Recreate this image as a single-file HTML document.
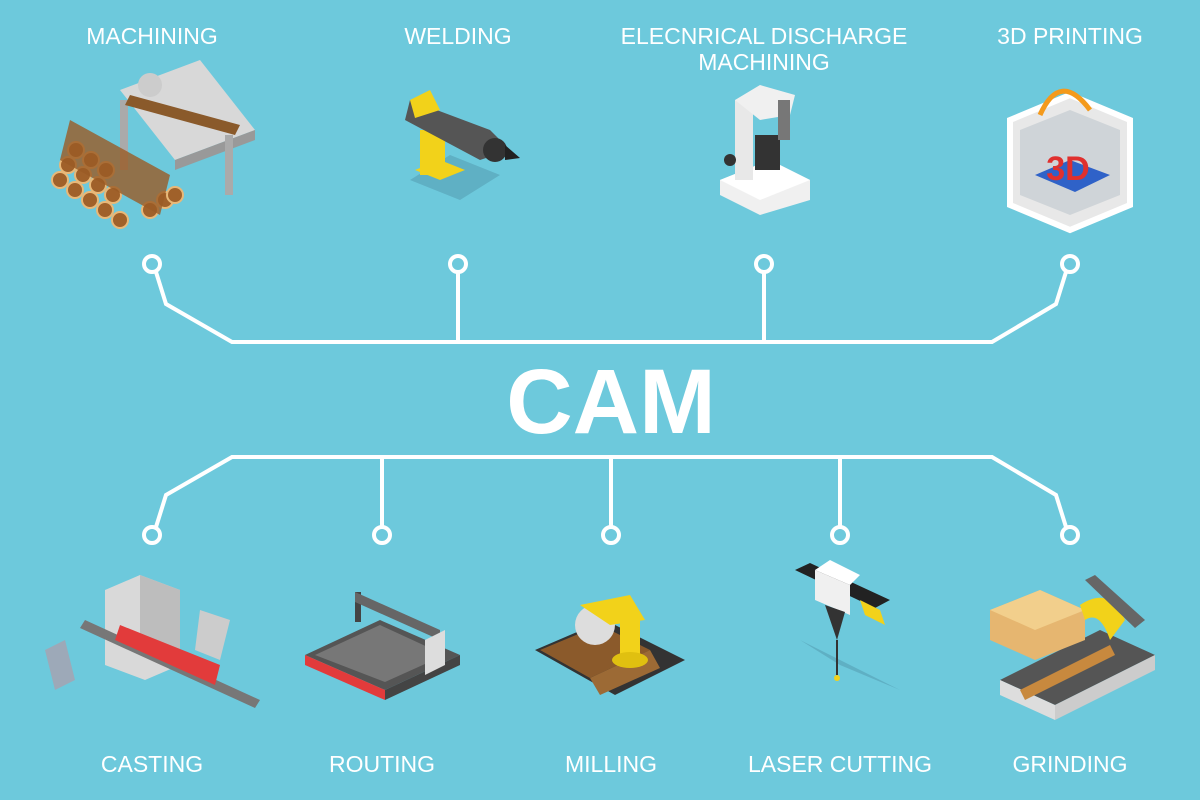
<!DOCTYPE html>
<html><head><meta charset="utf-8"><style>
html,body{margin:0;padding:0}
body{width:1200px;height:800px;background:#6dc9dc;overflow:hidden;position:relative;font-family:"Liberation Sans",sans-serif}
svg{position:absolute;left:0;top:0}
</style></head><body>
<svg width="1200" height="800" viewBox="0 0 1200 800">
<g fill="none" stroke="#fff" stroke-width="4" stroke-linejoin="miter">
<polyline points="156,272 166,304 232,342 992,342 1056,304 1066,272"/>
<line x1="458" y1="272" x2="458" y2="342"/>
<line x1="764" y1="272" x2="764" y2="342"/>
<polyline points="156,527 166,495 232,457 992,457 1056,495 1066,527"/>
<line x1="382" y1="457" x2="382" y2="527"/>
<line x1="611" y1="457" x2="611" y2="527"/>
<line x1="840" y1="457" x2="840" y2="527"/>
<g stroke-width="4">
<circle cx="152" cy="264" r="8"/><circle cx="458" cy="264" r="8"/><circle cx="764" cy="264" r="8"/><circle cx="1070" cy="264" r="8"/>
<circle cx="152" cy="535" r="8"/><circle cx="382" cy="535" r="8"/><circle cx="611" cy="535" r="8"/><circle cx="840" cy="535" r="8"/><circle cx="1070" cy="535" r="8"/>
</g></g>
<g fill="#fff" font-family="Liberation Sans, sans-serif" font-size="23" text-anchor="middle">
<text x="152" y="44">MACHINING</text>
<text x="458" y="44">WELDING</text>
<text x="764" y="44">ELECNRICAL DISCHARGE</text>
<text x="764" y="70">MACHINING</text>
<text x="1070" y="44">3D PRINTING</text>
<text x="152" y="772">CASTING</text>
<text x="382" y="772">ROUTING</text>
<text x="611" y="772">MILLING</text>
<text x="840" y="772">LASER CUTTING</text>
<text x="1070" y="772">GRINDING</text>
<text x="611" y="433" font-size="92" font-weight="bold">CAM</text>
</g>
<!-- machining -->
<g>
<polygon points="120,90 200,60 255,130 175,160" fill="#d8d8d8"/>
<polygon points="175,160 255,130 255,140 175,170" fill="#999"/>
<rect x="225" y="135" width="8" height="60" fill="#aaa"/>
<rect x="120" y="100" width="8" height="70" fill="#aaa"/>
<polygon points="130,95 240,125 235,135 125,105" fill="#8a5a2b"/>
<circle cx="150" cy="85" r="12" fill="#ccc"/>
<g fill="#a0612a" stroke="#e8b878" stroke-width="2">
<circle cx="60" cy="180" r="8"/><circle cx="75" cy="190" r="8"/><circle cx="90" cy="200" r="8"/><circle cx="105" cy="210" r="8"/><circle cx="120" cy="220" r="8"/>
<circle cx="68" cy="165" r="8"/><circle cx="83" cy="175" r="8"/><circle cx="98" cy="185" r="8"/><circle cx="113" cy="195" r="8"/>
<circle cx="76" cy="150" r="8"/><circle cx="91" cy="160" r="8"/><circle cx="106" cy="170" r="8"/>
<circle cx="150" cy="210" r="8"/><circle cx="165" cy="200" r="8"/><circle cx="175" cy="195" r="8"/>
</g>
<polygon points="70,120 170,175 160,215 60,160" fill="#9a5b25" opacity=".8"/>
</g>
<!-- welding -->
<g>
<polygon points="410,180 460,200 500,175 450,155" fill="#5fb0c4"/>
<polygon points="415,170 440,180 465,170 440,160" fill="#f2d21a"/>
<rect x="420" y="130" width="25" height="45" fill="#f2d21a"/>
<polygon points="410,100 490,130 510,150 480,160 405,120" fill="#555"/>
<polygon points="410,100 430,90 440,110 415,118" fill="#f2d21a"/>
<circle cx="495" cy="150" r="12" fill="#333"/>
<polygon points="505,145 520,158 505,160" fill="#222"/>
</g>
<!-- EDM -->
<g>
<polygon points="720,180 770,160 810,180 810,200 760,215 720,195" fill="#f0f0f0"/>
<polygon points="720,180 760,200 810,180 770,160" fill="#fff"/>
<rect x="735" y="100" width="18" height="80" fill="#e8e8e8"/>
<polygon points="735,100 760,85 795,95 790,115 760,120" fill="#f0f0f0"/>
<rect x="755" y="135" width="25" height="35" fill="#333"/>
<rect x="778" y="100" width="12" height="40" fill="#777"/>
<circle cx="730" cy="160" r="6" fill="#333"/>
</g>
<!-- 3D printing -->
<g>
<polygon points="1010,120 1070,95 1130,120 1130,205 1070,230 1010,205" fill="#e8e8e8" stroke="#fff" stroke-width="6"/>
<polygon points="1020,130 1070,110 1120,130 1120,195 1070,215 1020,195" fill="#cfd4d8"/>
<polygon points="1035,175 1070,160 1110,175 1075,192" fill="#2f62c8"/>
<text x="1068" y="180" fill="#e0302e" font-family="Liberation Sans, sans-serif" font-weight="bold" font-size="34" text-anchor="middle">3D</text>
<path d="M1040 115 Q1060 70 1090 110" stroke="#f49a1c" stroke-width="5" fill="none"/>
</g>
<!-- casting -->
<g>
<polygon points="105,590 140,575 180,590 180,665 145,680 105,665" fill="#d9d9d9"/>
<polygon points="140,575 180,590 180,665 140,650" fill="#bdbdbd"/>
<polygon points="85,620 260,700 255,708 80,628" fill="#777"/>
<polygon points="120,625 220,665 215,685 115,640" fill="#e23b3b"/>
<polygon points="200,610 230,620 220,660 195,650" fill="#ccc"/>
<polygon points="45,650 65,640 75,680 55,690" fill="#9da9b8"/>
</g>
<!-- routing -->
<g>
<polygon points="305,655 380,620 460,655 385,690" fill="#555"/>
<polygon points="305,655 385,690 385,700 305,665" fill="#e23b3b"/>
<polygon points="385,690 460,655 460,665 385,700" fill="#444"/>
<polygon points="315,655 380,625 445,655 385,682" fill="#777"/>
<rect x="355" y="592" width="6" height="30" fill="#444"/>
<polygon points="355,592 440,630 440,640 355,602" fill="#666"/>
<polygon points="425,640 445,630 445,665 425,675" fill="#ddd"/>
</g>
<!-- milling -->
<g>
<polygon points="535,650 605,620 685,660 615,695" fill="#333"/>
<polygon points="540,650 600,625 650,650 590,678" fill="#8b5a2b"/>
<polygon points="590,678 650,650 660,668 600,695" fill="#9c6a35"/>
<circle cx="595" cy="625" r="20" fill="#ddd"/>
<polygon points="580,605 630,595 645,620 610,625" fill="#f2d21a"/>
<rect x="620" y="620" width="20" height="40" fill="#f2d21a"/>
<ellipse cx="630" cy="660" rx="18" ry="8" fill="#e0c010"/>
</g>
<!-- laser -->
<g>
<polygon points="800,640 860,670 900,690 840,665" fill="#5fb0c4"/>
<polygon points="795,570 810,563 890,600 875,608" fill="#222"/>
<polygon points="815,570 850,585 850,615 815,600" fill="#f0f0f0"/>
<polygon points="830,560 860,575 850,585 815,570" fill="#fff"/>
<polygon points="860,600 880,610 885,625 865,615" fill="#f2d21a"/>
<polygon points="825,605 845,612 837,640" fill="#333"/>
<line x1="837" y1="640" x2="837" y2="675" stroke="#333" stroke-width="2"/>
<circle cx="837" cy="678" r="3" fill="#f2d21a"/>
</g>
<!-- grinding -->
<g>
<polygon points="1000,680 1100,630 1155,655 1055,705" fill="#555"/>
<polygon points="1000,680 1055,705 1055,720 1000,695" fill="#ddd"/>
<polygon points="1055,705 1155,655 1155,670 1055,720" fill="#ccc"/>
<polygon points="990,610 1040,590 1085,610 1085,640 1035,660 990,640" fill="#e6b670"/>
<polygon points="990,610 1040,590 1085,610 1035,630" fill="#f2cf8c"/>
<polygon points="1020,690 1110,645 1115,655 1025,700" fill="#c8893e"/>
<path d="M1080 605 Q1110 585 1125 620 L1110 640 Q1100 610 1085 620 Z" fill="#f2d21a"/>
<polygon points="1085,580 1095,575 1145,620 1135,628" fill="#666"/>
</g>
</svg>
</body></html>
